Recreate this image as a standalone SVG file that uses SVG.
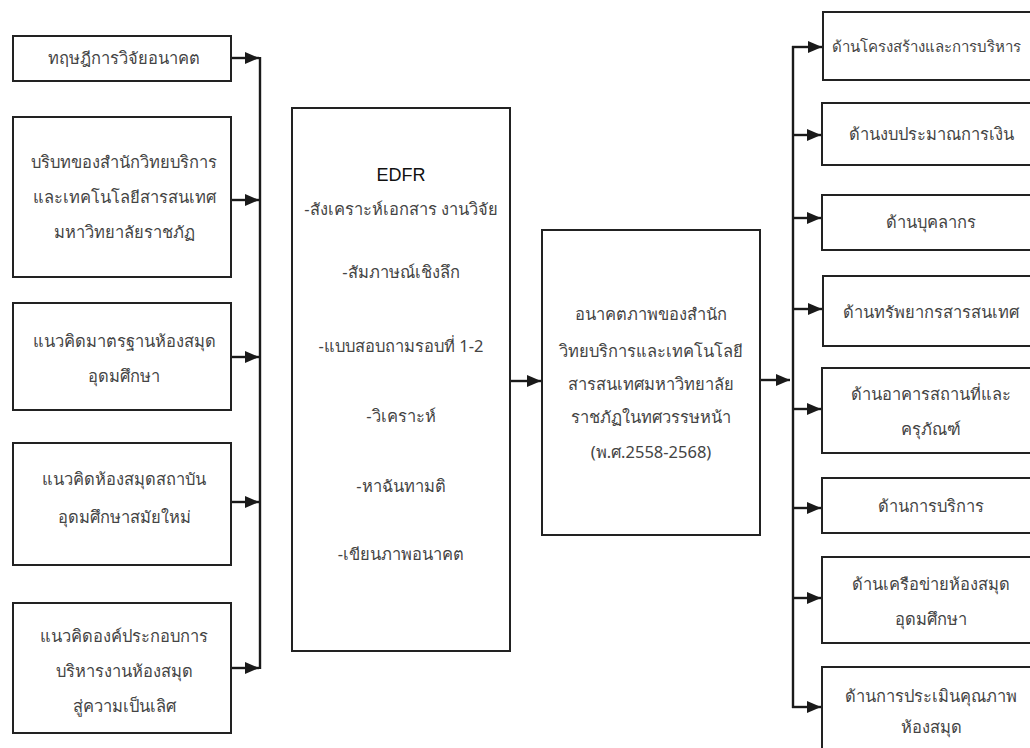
<svg xmlns="http://www.w3.org/2000/svg" width="1030" height="748" viewBox="0 0 1030 748">
<defs>
<marker id="ah" viewBox="0 0 14 12" refX="14" refY="6" markerWidth="14" markerHeight="12" markerUnits="userSpaceOnUse" orient="auto"><path d="M0,0 L14,6 L0,12 z" fill="#1a1a1a"/></marker>
<style>
.box{fill:#fff;stroke:#222;stroke-width:2}
.t{font-family:"Noto Sans","DejaVu Sans",sans-serif;font-size:16.5px;fill:#444;text-anchor:middle}
.b{font-family:"Liberation Sans",sans-serif;font-size:18px;fill:#111;text-anchor:middle}
.ln{stroke:#1a1a1a;stroke-width:2.4;fill:none}
.ar{stroke:#1a1a1a;stroke-width:2.4;fill:none;marker-end:url(#ah)}
</style>
</defs>
<rect width="1030" height="748" fill="#fff"/>
<g id="connectors">
<path class="ln" d="M260,57 V669"/>
<path class="ar" d="M231,58 H259"/>
<path class="ar" d="M231,200 H259"/>
<path class="ar" d="M231,357 H259"/>
<path class="ar" d="M231,502 H259"/>
<path class="ar" d="M231,668 H259"/>
<path class="ar" d="M510,381 H541"/>
<path class="ar" d="M760,380 H790"/>
<path class="ln" d="M793,46 V708"/>
<path class="ar" d="M792,47 H822"/>
<path class="ar" d="M792,135 H821"/>
<path class="ar" d="M792,218 H821"/>
<path class="ar" d="M792,309 H822"/>
<path class="ar" d="M792,409 H821"/>
<path class="ar" d="M792,508 H821"/>
<path class="ar" d="M792,598 H821"/>
<path class="ar" d="M792,707 H821"/>
</g>
<g id="n1"><rect class="box" x="13" y="36" width="218" height="45"/><text class="t" x="124" y="64">ทฤษฎีการวิจัยอนาคต</text></g>
<g id="n2"><rect class="box" x="13" y="117" width="218" height="160"/><text class="t" x="124" y="168">บริบทของสำนักวิทยบริการ</text><text class="t" x="124" y="203">และเทคโนโลยีสารสนเทศ</text><text class="t" x="124" y="238">มหาวิทยาลัยราชภัฏ</text></g>
<g id="n3"><rect class="box" x="13" y="303" width="218" height="107"/><text class="t" x="124" y="347">แนวคิดมาตรฐานห้องสมุด</text><text class="t" x="124" y="382">อุดมศึกษา</text></g>
<g id="n4"><rect class="box" x="13" y="443" width="218" height="122"/><text class="t" x="124" y="485">แนวคิดห้องสมุดสถาบัน</text><text class="t" x="124" y="523">อุดมศึกษาสมัยใหม่</text></g>
<g id="n5"><rect class="box" x="13" y="603" width="218" height="130"/><text class="t" x="124" y="642">แนวคิดองค์ประกอบการ</text><text class="t" x="124" y="677">บริหารงานห้องสมุด</text><text class="t" x="124" y="712">สู่ความเป็นเลิศ</text></g>
<g id="n6"><rect class="box" x="292" y="108" width="218" height="543"/>
<text class="b" x="401" y="181">EDFR</text>
<text class="t" x="401" y="215">-สังเคราะห์เอกสาร งานวิจัย</text>
<text class="t" x="401" y="278">-สัมภาษณ์เชิงลึก</text>
<text class="t" x="401" y="352">-แบบสอบถามรอบที่ 1-2</text>
<text class="t" x="401" y="422">-วิเคราะห์</text>
<text class="t" x="401" y="492">-หาฉันทามติ</text>
<text class="t" x="401" y="560">-เขียนภาพอนาคต</text></g>
<g id="n7"><rect class="box" x="542" y="230" width="218" height="305"/>
<text class="t" x="651" y="320">อนาคตภาพของสำนัก</text>
<text class="t" x="651" y="357">วิทยบริการและเทคโนโลยี</text>
<text class="t" x="651" y="390">สารสนเทศมหาวิทยาลัย</text>
<text class="t" x="651" y="423">ราชภัฏในทศวรรษหน้า</text>
<text class="t" x="651" y="458">(พ.ศ.2558-2568)</text></g>
<g id="r1"><rect class="box" x="823" y="12" width="220" height="68"/><text class="t" x="832" y="52" style="text-anchor:start;font-size:15px">ด้านโครงสร้างและการบริหาร</text></g>
<g id="r2"><rect class="box" x="822" y="103" width="220" height="62"/><text class="t" x="931" y="140">ด้านงบประมาณการเงิน</text></g>
<g id="r3"><rect class="box" x="822" y="195" width="220" height="55"/><text class="t" x="931" y="228">ด้านบุคลากร</text></g>
<g id="r4"><rect class="box" x="823" y="276" width="220" height="70"/><text class="t" x="931" y="318">ด้านทรัพยากรสารสนเทศ</text></g>
<g id="r5"><rect class="box" x="822" y="368" width="220" height="85"/><text class="t" x="931" y="400">ด้านอาคารสถานที่และ</text><text class="t" x="931" y="435">ครุภัณฑ์</text></g>
<g id="r6"><rect class="box" x="822" y="478" width="220" height="55"/><text class="t" x="931" y="512">ด้านการบริการ</text></g>
<g id="r7"><rect class="box" x="822" y="557" width="220" height="86"/><text class="t" x="931" y="590">ด้านเครือข่ายห้องสมุด</text><text class="t" x="931" y="625">อุดมศึกษา</text></g>
<g id="r8"><rect class="box" x="822" y="667" width="220" height="90"/><text class="t" x="931" y="702">ด้านการประเมินคุณภาพ</text><text class="t" x="931" y="733">ห้องสมุด</text></g>
</svg>
